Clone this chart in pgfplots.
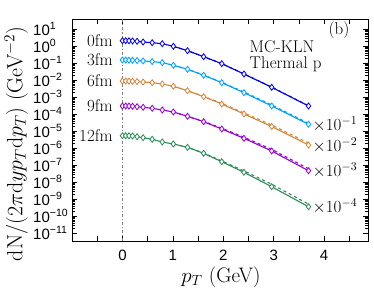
\documentclass[border=0pt]{standalone}
\usepackage{fix-cm}
\usepackage{fontspec}
\usepackage{pgfplots}
\pgfplotsset{compat=1.18}
\newfontfamily\tickfont{Liberation Sans}
\definecolor{cA}{RGB}{0,0,230}
\definecolor{cB}{RGB}{0,160,255}
\definecolor{cC}{RGB}{210,135,60}
\definecolor{cD}{RGB}{150,0,210}
\definecolor{cE}{RGB}{46,139,87}
\pgfplotstableread{
pt    a        b        c        d        e
0     2.05     0.150    8.73e-3  2.96e-4  5.30e-6
0.065 2.04     0.149    8.70e-3  2.95e-4  5.28e-6
0.13  2.02     0.147    8.60e-3  2.92e-4  5.22e-6
0.2   1.98     0.144    8.40e-3  2.86e-4  5.08e-6
0.29  1.89     0.139    8.00e-3  2.69e-4  4.62e-6
0.41  1.72     0.132    7.60e-3  2.48e-4  4.04e-6
0.59  1.56     0.121    6.93e-3  2.16e-4  3.25e-6
0.79  1.36     0.105    5.82e-3  1.72e-4  2.25e-6
1.01  0.96     0.0733   4.26e-3  1.31e-4  1.72e-6
1.29  0.53     0.0426   2.35e-3  7.33e-5  1.10e-6
1.61  0.235    0.0189   1.04e-3  3.52e-5  4.88e-7
1.97  0.091    6.93e-3  3.87e-4  1.31e-5  1.56e-7
2.41  0.0225   1.79e-3  1.00e-4  3.72e-6  3.72e-8
2.96  3.72e-3  2.96e-4  1.84e-5  6.67e-7  5.30e-9
3.69  2.96e-4  2.48e-5  1.50e-6  4.62e-8  3.52e-10
}\solid
\pgfplotstableread{
pt    a        b        c        d        e
1.01  0.96     0.0733   4.26e-3  1.31e-4  1.72e-6
1.29  0.53     0.0426   2.35e-3  7.33e-5  1.10e-6
1.61  0.235    0.0195   1.09e-3  3.70e-5  5.10e-7
1.97  0.092    7.3e-3   4.25e-4  1.45e-5  1.72e-7
2.41  0.0228   1.98e-3  1.16e-4  4.30e-6  4.50e-8
2.96  3.80e-3  3.4e-4   2.25e-5  8.30e-7  7.40e-9
3.69  3.05e-4  2.85e-5  1.95e-6  6.00e-8  5.00e-10
}\dashedtab
\begin{document}
\begin{tikzpicture}
\path[use as bounding box] (-72pt,-48pt) rectangle (302pt,241pt);
\begin{axis}[at={(0,0)}, anchor=south west, scale only axis,
  width=296pt, height=222pt, clip=false,
  xmin=-1, xmax=4.87, ymode=log, ymin=3.39e-12, ymax=38.7,
  xtick={-0.5,0,0.5,1,1.5,2,2.5,3,3.5,4,4.5},
  xticklabels={,0,,1,,2,,3,,4,},
  ytickten={-11,...,1},
  yticklabels={10\textsuperscript{−11},10\textsuperscript{−10},10\textsuperscript{−9},10\textsuperscript{−8},10\textsuperscript{−7},10\textsuperscript{−6},10\textsuperscript{−5},10\textsuperscript{−4},10\textsuperscript{−3},10\textsuperscript{−2},10\textsuperscript{−1},10\textsuperscript{0},10\textsuperscript{1}},
  tick align=inside, major tick length=5pt, minor tick length=3pt,
  tick style={black, line width=0.5pt},
  axis line style={line width=0.8pt},
  ticklabel style={font=\tickfont\fontsize{15}{17}\selectfont},
  yticklabel style={anchor=west, inner sep=0pt, xshift=-39pt},
  xticklabel style={anchor=north, inner sep=0pt, yshift=-9pt},
  xlabel={$p_T$ (GeV)},
  xlabel style={at={(rel axis cs:0.503,-0.162)}, anchor=center, font=\fontsize{21}{24}\selectfont},
  ylabel={$\mathrm{dN}/(2\pi\mathrm{d}y p_T\mathrm{d}p_T)$ (GeV$^{-2}$)},
  ylabel style={at={(rel axis cs:-0.189,0.437)}, anchor=center, font=\fontsize{22}{25}\selectfont},
  every axis plot/.append style={line width=1.1pt},
  mark options={solid, fill=white, line width=0.8pt},
]
\addplot[gray, dash dot, line width=0.6pt] coordinates {(0,3.39e-12) (0,38.7)};
\addplot[cA, dashed] table[x=pt, y=a] {\dashedtab};
\addplot[cB, dashed] table[x=pt, y=b] {\dashedtab};
\addplot[cC, dashed] table[x=pt, y=c] {\dashedtab};
\addplot[cD, dashed] table[x=pt, y=d] {\dashedtab};
\addplot[cE, dashed] table[x=pt, y=e] {\dashedtab};
\addplot[cA, mark=diamond*, mark size=3pt] table[x=pt, y=a] {\solid};
\addplot[cB, mark=diamond*, mark size=3pt] table[x=pt, y=b] {\solid};
\addplot[cC, mark=diamond*, mark size=3pt] table[x=pt, y=c] {\solid};
\addplot[cD, mark=diamond*, mark size=3pt] table[x=pt, y=d] {\solid};
\addplot[cE, mark=diamond*, mark size=3pt] table[x=pt, y=e] {\solid};
\begin{scope}[every node/.style={font=\fontsize{17}{20}\selectfont, inner sep=0pt}]
\node[anchor=east] at (axis cs:-0.19,2.05) {0fm};
\node[anchor=east] at (axis cs:-0.19,0.150) {3fm};
\node[anchor=east] at (axis cs:-0.19,8.73e-3) {6fm};
\node[anchor=east] at (axis cs:-0.19,2.96e-4) {9fm};
\node[anchor=east] at (axis cs:-0.19,5.30e-6) {12fm};
\node[anchor=west, xshift=4pt] at (axis cs:3.69,2.48e-5) {$\times10^{-1}$};
\node[anchor=west, xshift=4pt] at (axis cs:3.69,1.50e-6) {$\times10^{-2}$};
\node[anchor=west, xshift=4pt] at (axis cs:3.69,4.62e-8) {$\times10^{-3}$};
\node[anchor=west, xshift=4pt] at (axis cs:3.69,3.52e-10) {$\times10^{-4}$};
\node[anchor=base west] at (rel axis cs:0.5997,0.850) {MC-KLN};
\node[anchor=base west] at (rel axis cs:0.5997,0.776) {Thermal p};
\node at (rel axis cs:0.902,0.9505) {(b)};
\end{scope}
\end{axis}
\end{tikzpicture}
\end{document}
